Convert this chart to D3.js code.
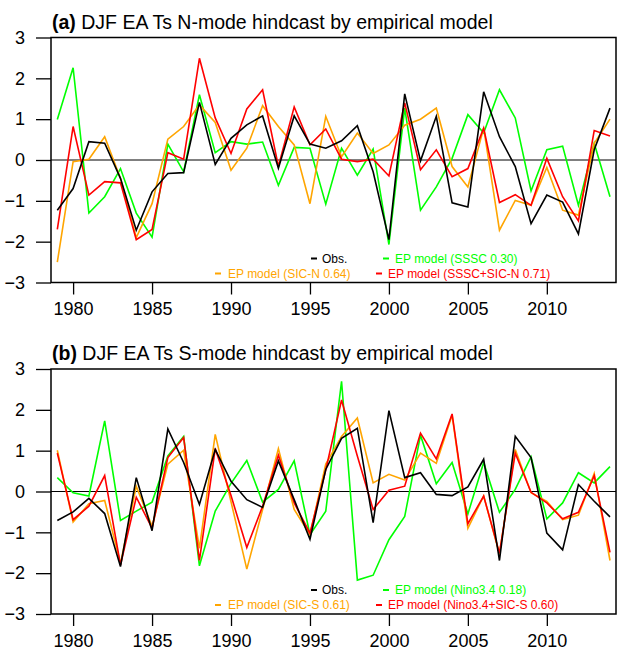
<!DOCTYPE html>
<html>
<head>
<meta charset="utf-8">
<script src="https://d3js.org/d3.v7.min.js"></script>
<style>
body { margin: 0; background: #fff; }
svg text { font-family: "Liberation Sans", Arial, Helvetica, sans-serif; }
</style>
</head>
<body>
<div id="main"></div>
<script>
// hindcast of the DJF EA Ts modes, 1979-2014
const YEARS = [1979, 1980, 1981, 1982, 1983, 1984, 1985, 1986, 1987, 1988, 1989, 1990,
    1991, 1992, 1993, 1994, 1995, 1996, 1997, 1998, 1999, 2000, 2001, 2002,
    2003, 2004, 2005, 2006, 2007, 2008, 2009, 2010, 2011, 2012, 2013, 2014];
const X_TICKS = [1980, 1985, 1990, 1995, 2000, 2005, 2010];
const Y_TICKS = [-3, -2, -1, 0, 1, 2, 3];

// panel (a) N-mode
const OBS_N = [-1.23, -0.70, 0.45, 0.41, -0.45, -1.72, -0.78, -0.33, -0.31, 1.41, -0.11, 0.53,
    0.86, 1.08, -0.20, 1.08, 0.39, 0.29, 0.47, 0.84, -0.29, -1.95, 1.62, -0.02,
    1.07, -1.05, -1.15, 1.67, 0.57, -0.16, -1.56, -0.86, -1.03, -1.81, 0.25, 1.27];
const SSSC = [0.99, 2.26, -1.30, -0.90, -0.21, -1.30, -1.89, 0.39, -0.29, 1.60, 0.18, 0.45,
    0.39, 0.44, -0.62, 0.31, 0.29, -1.08, 0.29, -0.37, 0.27, -2.07, 1.27, -1.23,
    -0.66, 0.04, 1.11, 0.66, 1.72, 1.03, -0.76, 0.25, 0.34, -1.11, 0.41, -0.90];
const SIC_N = [-2.50, -0.04, 0.02, 0.57, -0.45, -1.90, -1.07, 0.51, 0.82, 1.35, 0.92, -0.25,
    0.29, 1.33, 0.82, 0.37, -1.07, 1.07, 0.08, 0.66, 0.16, 0.37, 0.85, 1.00,
    1.27, -0.16, -0.66, 0.78, -1.72, -0.99, -1.11, -0.18, -1.23, -1.35, 0.41, 1.00];
const SSSC_SIC_N = [-1.70, 0.82, -0.86, -0.53, -0.56, -1.95, -1.70, 0.18, 0.02, 2.49, 1.03, 0.16,
    1.25, 1.72, -0.16, 1.30, 0.37, 0.76, 0.02, -0.04, 0.02, -0.39, 1.40, -0.24,
    0.25, -0.41, -0.21, 0.78, -1.04, -0.85, -1.11, 0.04, -0.90, -1.49, 0.72, 0.59];

// panel (b) S-mode
const OBS_S = [-0.71, -0.50, -0.17, -0.54, -1.84, 0.34, -0.96, 1.53, 0.71, -0.32, 1.03, 0.25,
    -0.20, -0.39, 0.75, -0.20, -1.17, 0.54, 1.30, 1.55, -0.76, 1.98, 0.34, 0.46,
    -0.07, -0.10, 0.11, 0.79, -1.69, 1.35, 0.83, -1.02, -1.43, 0.17, -0.24, -0.62];
const NINO34 = [0.34, -0.03, -0.11, 1.73, -0.71, -0.48, -0.26, 0.87, 1.35, -1.82, -0.48, 0.20,
    0.76, -0.26, 0.05, 0.75, -1.06, -0.48, 2.70, -2.17, -2.05, -1.18, -0.61, 1.38,
    0.19, 0.71, -0.55, 0.71, -0.51, 0.05, 0.85, -0.67, -0.28, 0.46, 0.21, 0.61];
const SIC_S = [1.01, -0.75, -0.30, -0.22, -1.76, 0.13, -0.85, 0.67, 1.01, -1.39, 1.40, -0.25,
    -1.90, -0.44, 1.05, -0.44, -1.06, 0.67, 1.35, 1.80, 0.21, 0.42, 0.28, 0.94,
    0.69, 1.87, -0.90, -0.11, -1.53, 1.03, -0.03, -0.24, -0.69, -0.58, 0.44, -1.69];
const NINO34_SIC_S = [0.94, -0.69, -0.36, 0.39, -1.80, -0.14, -0.90, 0.83, 1.32, -1.69, 1.05, -0.10,
    -1.37, -0.36, 0.89, -0.28, -1.02, 0.53, 2.24, 0.87, -0.44, 0.03, 0.13, 1.43,
    0.80, 1.90, -0.79, -0.11, -1.51, 0.94, -0.02, -0.28, -0.67, -0.51, 0.39, -1.49];

const LABELS_N = ["Obs.", "EP model (SSSC 0.30)", "EP model (SIC-N 0.64)", "EP model (SSSC+SIC-N 0.71)"];
const LABELS_S = ["Obs.", "EP model (Nino3.4 0.18)", "EP model (SIC-S 0.61)", "EP model (Nino3.4+SIC-S 0.60)"];

const ctx = {
    w: 617,
    h: 655,
    left: 51,
    right: 616,
    plotH: 245,
    colors: ["#000000", "#00ff00", "#ffa500", "#ff0000"],
    // legend slots: [dash x, text x, baseline offset from frame top]
    legendSlots: [[311, 322, 225], [383, 395, 225], [215, 228, 240], [376, 388, 240]],
};

function drawPanel(svg, top, tag, title, values, labels) {
    let x = d3.scaleLinear().domain([1978.6, 2014.38]).range([ctx.left, ctx.right]);
    let y = d3.scaleLinear().domain([-3, 3]).range([top + ctx.plotH, top]);

    let g = svg.append("g");

    let t = g.append("text")
        .attr("x", ctx.left + 1)
        .attr("y", top - 9)
        .style("font-size", "19.5px");
    t.append("tspan").style("font-weight", "bold").text(tag);
    t.append("tspan").text(" " + title);

    // zero line
    g.append("line")
        .attr("x1", ctx.left).attr("x2", ctx.right)
        .attr("y1", y(0)).attr("y2", y(0))
        .attr("stroke", "#000").attr("stroke-width", 1);

    let line = d3.line().x((d, i) => x(YEARS[i])).y((d) => y(d));
    // models first, obs on top
    [1, 2, 3, 0].forEach((k) => {
        g.append("path")
            .datum(values[k])
            .attr("d", line)
            .attr("fill", "none")
            .attr("stroke", ctx.colors[k])
            .attr("stroke-width", 1.6);
    });

    let yAxis = g.append("g")
        .attr("transform", `translate(${ctx.left},0)`)
        .call(d3.axisLeft(y).tickValues(Y_TICKS).tickFormat(d3.format("d")).tickSize(15).tickPadding(11));
    let xAxis = g.append("g")
        .attr("transform", `translate(0,${top + ctx.plotH})`)
        .call(d3.axisBottom(x).tickValues(X_TICKS).tickFormat(d3.format("d")).tickSize(12).tickPadding(8));
    [yAxis, xAxis].forEach((a) => {
        a.select(".domain").remove();
        a.selectAll("line").attr("stroke", "#000").attr("stroke-width", 1.3);
        a.selectAll("text").attr("fill", "#000").style("font-size", "18px");
    });

    g.append("rect")
        .attr("x", ctx.left).attr("y", top)
        .attr("width", ctx.right - ctx.left).attr("height", ctx.plotH)
        .attr("fill", "none").attr("stroke", "#000").attr("stroke-width", 1.5);

    labels.forEach((lab, k) => {
        let s = ctx.legendSlots[k];
        g.append("line")
            .attr("x1", s[0]).attr("x2", s[0] + 6)
            .attr("y1", top + s[2] - 4).attr("y2", top + s[2] - 4)
            .attr("stroke", ctx.colors[k]).attr("stroke-width", 2);
        g.append("text")
            .attr("x", s[1]).attr("y", top + s[2])
            .attr("fill", ctx.colors[k])
            .style("font-size", "12px")
            .text(lab);
    });
}

function createViz() {
    let svg = d3.select("#main").append("svg")
        .attr("width", ctx.w)
        .attr("height", ctx.h);
    drawPanel(svg, 37.5, "(a)", "DJF EA Ts N-mode hindcast by empirical model",
        [OBS_N, SSSC, SIC_N, SSSC_SIC_N], LABELS_N);
    drawPanel(svg, 369, "(b)", "DJF EA Ts S-mode hindcast by empirical model",
        [OBS_S, NINO34, SIC_S, NINO34_SIC_S], LABELS_S);
}

createViz();
</script>
</body>
</html>
